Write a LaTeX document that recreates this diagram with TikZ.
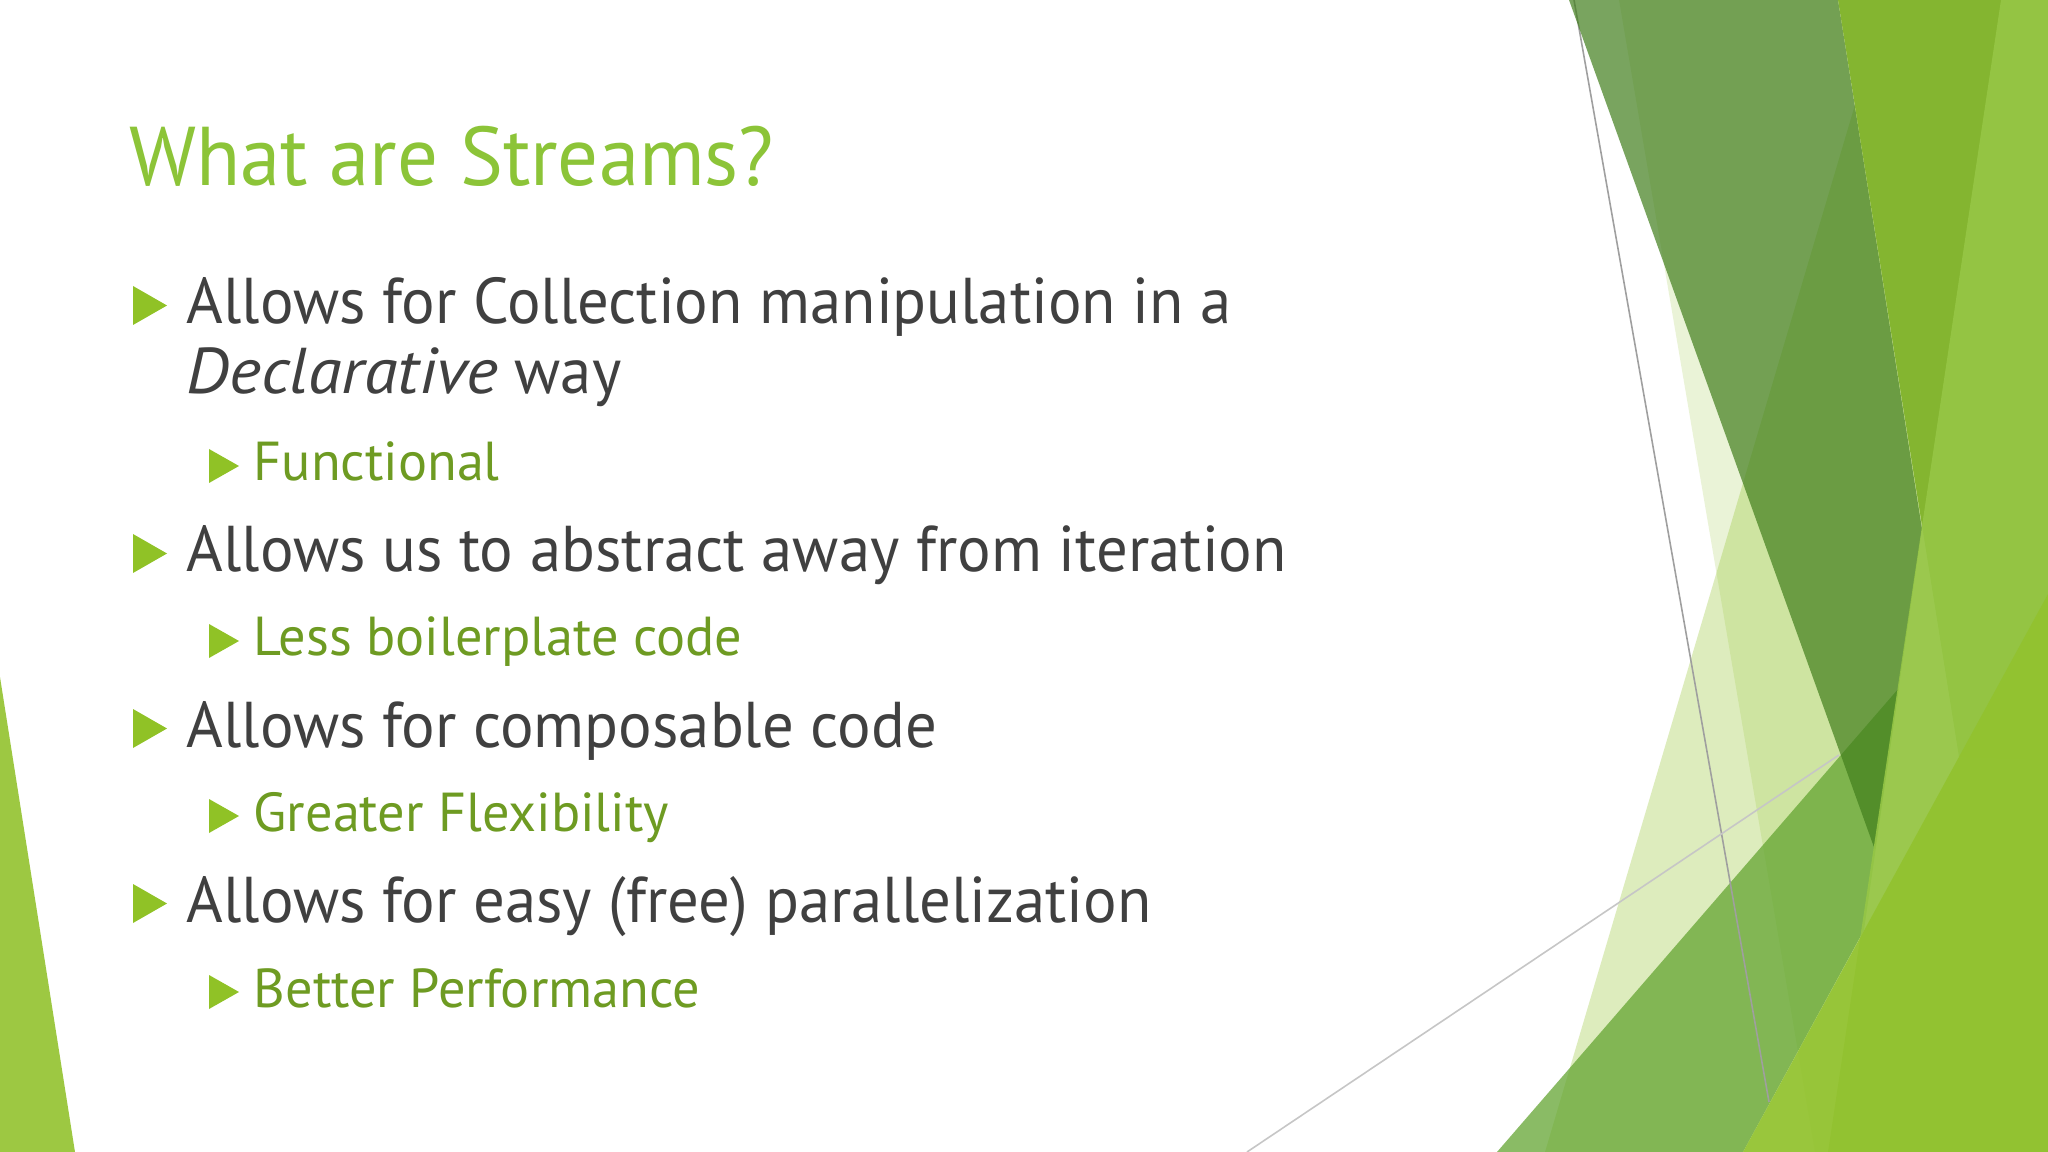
\documentclass[tikz,border=0pt]{standalone}
\usepackage{fontspec}
\setmainfont[FakeStretch=0.97]{PT Sans}
\newfontfamily\headface[FakeStretch=0.97]{PT Sans}
\newfontfamily\itemface[FakeStretch=0.99]{PT Sans}
\newfontfamily\emface[FakeStretch=1.06]{PT Sans}

\definecolor{facet}{RGB}{144,194,38}
\definecolor{titlegreen}{RGB}{140,196,56}
\definecolor{subgreen}{RGB}{110,155,34}
\definecolor{bodygray}{RGB}{64,64,64}
\definecolor{leafdark}{RGB}{65,126,28}
\definecolor{leafmid}{RGB}{100,165,50}
\definecolor{leafbright}{RGB}{132,181,48}
\definecolor{leaflime}{RGB}{150,198,70}
\definecolor{leafgrass}{RGB}{146,194,46}
\definecolor{leafleft}{RGB}{157,200,66}

\begin{document}
\begin{tikzpicture}[x=0.01cm, y=-0.01cm,
			title/.style={inner sep=0, anchor=base west, text=titlegreen,
				font=\headface\fontsize{23.7}{28}\selectfont},
			lvlone/.style={inner sep=0, anchor=base west, text=bodygray,
				font=\fontsize{18.4}{21}\selectfont},
			lvltwo/.style={inner sep=0, anchor=base west, text=subgreen,
				font=\itemface\fontsize{15.6}{18}\selectfont},
			bul/.style={fill=facet},
			wire/.style={line width=0.45pt}]
			\useasboundingbox (0,0) rectangle (2048,1152);
			\fill[white] (0,0) rectangle (2048,1152);

			% facets
			\fill[leafleft] (0,677) -- (0,1152) -- (75,1152) -- cycle;
			\fill[facet, opacity=0.18] (1619,0) -- (2048,0) -- (2048,1152) -- (1815,1152) -- cycle;
			\fill[facet, opacity=0.3] (1886,0) -- (2048,0) -- (2048,1152) -- (1545,1152) -- cycle;
			\fill[leafmid, opacity=0.75] (1899,688) -- (1864,930) -- (1743,1152) -- (1497,1152) -- cycle;
			\draw[wire, gray!75] (1574,0) -- (1769,1102);
			\draw[wire, gray!45] (1247,1152) -- (1839,755);
			\fill[leafdark, opacity=0.7] (1569,0) -- (1838,0) -- (1922,529) -- (1875,850) -- cycle;
			\fill[leafbright] (1838,0) -- (2048,0) -- (2048,760) -- (1959,757) -- cycle;
			\fill[leaflime, opacity=0.9] (2001,0) -- (2048,0) -- (2048,1152) -- (1828,1152) -- cycle;
			\fill[leafgrass, opacity=0.9] (1743,1152) -- (2048,594) -- (2048,1152) -- cycle;

			% text
			\node [title] (head) at (129,186) {What are Streams?};
			\node [lvlone] (one) at (186,324) {Allows for Collection manipulation in a};
			\node [lvlone] (onebis) at (186,394) {{\emface\itshape Declarative} way};
			\node [lvltwo] (oneitem) at (253,481) {Functional};
			\node [lvlone] (two) at (186,572) {Allows us to abstract away from iteration};
			\node [lvltwo] (twoitem) at (253,656) {Less boilerplate code};
			\node [lvlone] (three) at (186,747) {Allows for composable code};
			\node [lvltwo] (threeitem) at (253,831) {Greater Flexibility};
			\node [lvlone] (four) at (186,922) {Allows for easy (free) parallelization};
			\node [lvltwo] (fouritem) at (253,1007) {Better Performance};

			% bullets
			\fill[bul] ([shift={(-53,-38)}]one.base west) -- ++(0,39) -- ++(34,-19.5) -- cycle;
			\fill[bul] ([shift={(-53,-38)}]two.base west) -- ++(0,39) -- ++(34,-19.5) -- cycle;
			\fill[bul] ([shift={(-53,-38)}]three.base west) -- ++(0,39) -- ++(34,-19.5) -- cycle;
			\fill[bul] ([shift={(-53,-38)}]four.base west) -- ++(0,39) -- ++(34,-19.5) -- cycle;
			\fill[bul] ([shift={(-44,-32)}]oneitem.base west) -- ++(0,34) -- ++(30,-17) -- cycle;
			\fill[bul] ([shift={(-44,-32)}]twoitem.base west) -- ++(0,34) -- ++(30,-17) -- cycle;
			\fill[bul] ([shift={(-44,-32)}]threeitem.base west) -- ++(0,34) -- ++(30,-17) -- cycle;
			\fill[bul] ([shift={(-44,-32)}]fouritem.base west) -- ++(0,34) -- ++(30,-17) -- cycle;
		\end{tikzpicture}
\end{document}
